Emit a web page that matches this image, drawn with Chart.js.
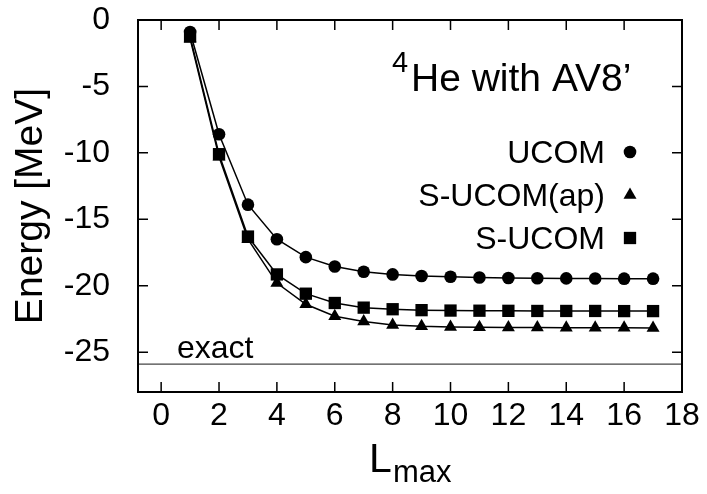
<!DOCTYPE html>
<html>
<head>
<meta charset="utf-8">
<script src="https://cdn.jsdelivr.net/npm/chart.js@4.4.0/dist/chart.umd.min.js"></script>
<style>
  body { margin: 0; background: #fff; }
  #box { width: 707px; height: 494px; }
</style>
</head>
<body>
<div id="box"><canvas id="energyChart"></canvas></div>
<script>
// L_max values and energies [MeV]
var lmax = [1, 2, 3, 4, 5, 6, 7, 8, 9, 10, 11, 12, 13, 14, 15, 16, 17];
var ucom = [-0.9, -8.6, -13.9, -16.5, -17.85, -18.55, -18.95, -19.15, -19.27, -19.32, -19.38, -19.42, -19.44, -19.45, -19.46, -19.47, -19.47];
var sucomAp = [-1.4, -10.3, -16.5, -19.8, -21.4, -22.3, -22.7, -22.95, -23.05, -23.1, -23.12, -23.14, -23.15, -23.16, -23.17, -23.17, -23.18];
var sucom = [-1.25, -10.1, -16.3, -19.15, -20.6, -21.3, -21.65, -21.77, -21.84, -21.87, -21.88, -21.89, -21.9, -21.9, -21.9, -21.91, -21.91];
var exactE = -25.9;
var xTicks = [0, 2, 4, 6, 8, 10, 12, 14, 16, 18];
var yTicks = [0, -5, -10, -15, -20, -25];
var seriesNames = ['UCOM', 'S-UCOM(ap)', 'S-UCOM'];

var FONT = 'Liberation Sans, Arial, sans-serif';

function pts(ys) {
  var out = [];
  for (var i = 0; i < lmax.length; i++) out.push({ x: lmax[i], y: ys[i] });
  return out;
}

var markers = [
  { style: 'circle', radius: 6.3 },
  { style: 'triangle', radius: 7.5 },
  { style: 'rect', radius: 8.7 }
];

function lineSet(label, ys, m, order) {
  return {
    label: label,
    data: pts(ys),
    borderColor: '#000',
    borderWidth: 1.5,
    backgroundColor: '#000',
    pointStyle: m.style,
    pointRadius: m.radius,
    pointBorderWidth: 0,
    pointBackgroundColor: '#000',
    tension: 0,
    order: order
  };
}

// frame, inward ticks, labels and legend
var decor = {
  id: 'decor',
  afterDraw: function (chart) {
    var ctx = chart.ctx;
    var a = chart.chartArea;
    var xs = chart.scales.x, ys = chart.scales.y;
    ctx.save();
    ctx.strokeStyle = '#000';
    ctx.lineWidth = 1.5;
    ctx.beginPath();
    xTicks.forEach(function (v) {
      var px = xs.getPixelForValue(v);
      ctx.moveTo(px, a.bottom); ctx.lineTo(px, a.bottom - 10);
      ctx.moveTo(px, a.top); ctx.lineTo(px, a.top + 10);
    });
    yTicks.forEach(function (v) {
      var py = ys.getPixelForValue(v);
      ctx.moveTo(a.left, py); ctx.lineTo(a.left + 10, py);
      ctx.moveTo(a.right, py); ctx.lineTo(a.right - 10, py);
    });
    ctx.stroke();
    ctx.lineWidth = 2;
    ctx.strokeRect(a.left, a.top, a.right - a.left, a.bottom - a.top);

    ctx.fillStyle = '#000';
    ctx.textBaseline = 'alphabetic';

    // title
    ctx.textAlign = 'left';
    ctx.font = '29px ' + FONT;
    ctx.fillText('4', 392, 72);
    ctx.font = '39px ' + FONT;
    ctx.fillText('He with AV8\u2019', 411, 91);

    // legend
    ctx.font = '32px ' + FONT;
    ctx.textAlign = 'right';
    var rows = [163, 206, 249];
    for (var i = 0; i < seriesNames.length; i++) {
      ctx.fillText(seriesNames[i], 605, rows[i]);
      Chart.helpers.drawPoint(ctx, {
        pointStyle: markers[i].style, radius: markers[i].radius,
        rotation: 0, borderWidth: 0
      }, 630, rows[i] - 11);
    }

    // exact label
    ctx.textAlign = 'left';
    ctx.font = '32px ' + FONT;
    ctx.fillText('exact', 177, 358);

    // y title
    ctx.save();
    ctx.translate(42, (a.top + a.bottom) / 2);
    ctx.rotate(-Math.PI / 2);
    ctx.textAlign = 'center';
    ctx.font = '39px ' + FONT;
    ctx.fillText('Energy [MeV]', 0, 0);
    ctx.restore();

    // x title
    ctx.textAlign = 'left';
    ctx.font = '41px ' + FONT;
    ctx.fillText('L', 369, 472);
    ctx.font = '31px ' + FONT;
    ctx.fillText('max', 393, 482);
    ctx.restore();
  }
};

var chart = document.getElementById('energyChart');

new Chart(chart, {
  type: 'line',
  data: {
    datasets: [
      lineSet(seriesNames[0], ucom, markers[0], 3),
      lineSet(seriesNames[1], sucomAp, markers[1], 2),
      lineSet(seriesNames[2], sucom, markers[2], 1),
      {
        label: 'exact',
        data: [{ x: -0.8, y: exactE }, { x: 18, y: exactE }],
        borderColor: '#444',
        borderWidth: 1.2,
        pointRadius: 0,
        order: 4
      }
    ]
  },
  options: {
    responsive: true,
    maintainAspectRatio: false,
    animation: false,
    layout: { padding: { top: 20, right: 25, left: 0, bottom: 0 } },
    plugins: { legend: { display: false }, tooltip: { enabled: false } },
    scales: {
      x: {
        type: 'linear',
        min: -0.8,
        max: 18,
        grid: { display: false },
        border: { display: false },
        afterBuildTicks: function (s) { s.ticks = xTicks.map(function (v) { return { value: v }; }); },
        afterFit: function (s) { s.height = 102; s.paddingLeft = 0; s.paddingRight = 0; },
        ticks: { padding: -3, color: '#000', font: { family: FONT, size: 32 }, maxRotation: 0, autoSkip: false }
      },
      y: {
        type: 'linear',
        min: -28,
        max: 0,
        grid: { display: false },
        border: { display: false },
        afterBuildTicks: function (s) { s.ticks = yTicks.map(function (v) { return { value: v }; }); },
        afterFit: function (s) { s.width = 138; s.paddingTop = 0; s.paddingBottom = 0; },
        ticks: { padding: 20, color: '#000', font: { family: FONT, size: 32 } }
      }
    }
  },
  plugins: [decor]
});
</script>
</body>
</html>
